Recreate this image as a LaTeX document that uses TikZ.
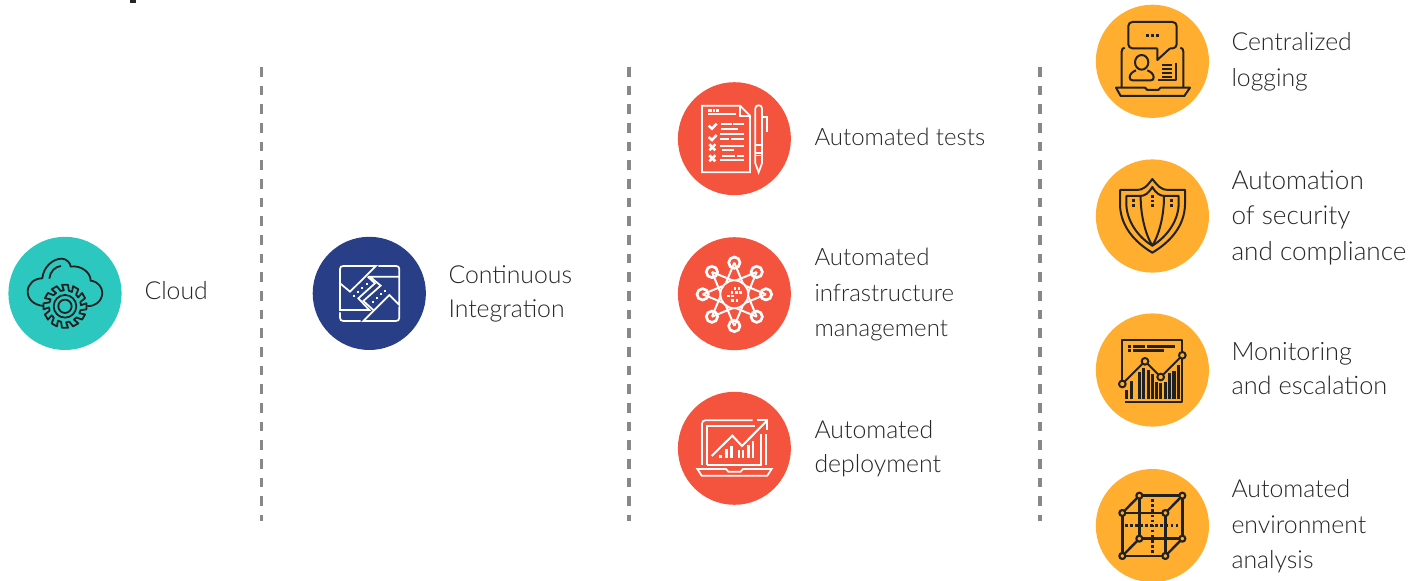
\documentclass[tikz,border=0pt]{standalone}
\usepackage{fontspec}
\setmainfont{Lato Light}
\definecolor{tealdisc}{RGB}{44,199,191}
\definecolor{navydisc}{RGB}{40,63,135}
\definecolor{reddisc}{RGB}{244,83,61}
\definecolor{orangedisc}{RGB}{255,174,47}
\definecolor{inkline}{RGB}{33,33,33}
\definecolor{labeltext}{RGB}{38,38,38}
\definecolor{sepline}{RGB}{136,136,136}
\tikzset{every picture/.style={line width=0.75pt}}
\tikzset{
  sepdash/.style={draw=sepline,line width=2.3pt,dash pattern=on 7.3pt off 6.7pt},
  lbl/.style={anchor=north west,inner sep=0pt,align=left,text=labeltext,
    font=\fontsize{18.6}{26.6}\selectfont},
  lblnarrow/.style={lbl,font=\fontsize{18.6}{25.7}\selectfont},
  iconink/.style={draw=inkline,line width=1.35pt,line join=round},
  iconwhite/.style={draw=white,line width=1.3pt,line join=miter},
  inkbar/.style={fill=inkline,draw=none},
  whitebar/.style={fill=white,draw=none},
  zoomed/.style={shift={#1},scale=0.3333}
}
\begin{document}
\begin{tikzpicture}[x=0.75pt,y=0.75pt,yscale=-1,xscale=1]
    \useasboundingbox (0,0) rectangle (1425,581);

    %Shape: Rectangle, foot of the cut heading
    \fill [labeltext] (130,0) rectangle (136,3);

    %Straight Lines, the three separators
    \draw [sepdash] (261.7,67) -- (261.7,521);
    \draw [sepdash] (629,67) -- (629,521);
    \draw [sepdash] (1040,67) -- (1040,521);

    %Shape: Circle, the discs
    \fill [tealdisc] (65,293.4) circle (56.6);
    \fill [navydisc] (369.3,293.4) circle (56.6);
    \foreach \cy in {138.7,293.7,448.3} {\fill [reddisc] (734.4,\cy) circle (56.5);}
    \foreach \cy in {61.3,216,370,525.6} {\fill [orangedisc] (1152.4,\cy) circle (56.6);}

    %Icon: cloud and gear
    \begin{scope}[zoomed={(0,0)}]
      \draw [iconink] (130,918) .. controls (100,915) and (83,897) .. (83,875) .. controls (83,852) and (103,835) .. (127,835) .. controls (130,800) and (160,776) .. (185,776) .. controls (200,776) and (212,790) .. (212,800) .. controls (240,795) and (272,815) .. (272,842) .. controls (295,845) and (307,862) .. (307,880) .. controls (305,905) and (285,920) .. (262,918);
      \draw [iconink] (148,836) .. controls (150,815) and (165,800) .. (183,798);
      \begin{scope}[shift={(195,919)}]
        \draw [iconink] (-4:48) \foreach \a in {0,30,...,330} { -- (\a-4:48) -- (\a-8:65) -- (\a+8:65) -- (\a+14:48)} -- cycle;
        \draw [iconink] (0,0) circle (34);
        \draw [iconink] (0,0) circle (20);
      \end{scope}
    \end{scope}

    %Icon: two arrows in a frame
    \begin{scope}[zoomed={(330,255)}]
      \draw [iconwhite] (30,85) -- (30,42) .. controls (30,36) and (34,33) .. (40,33) -- (138,33) -- (60,110) -- (30,85) -- (30,165) -- (118,165) -- (85,130) -- (135,85) -- (113,65);
      \draw [iconwhite] (145,33) -- (198,33) .. controls (204,33) and (208,36) .. (208,42) -- (208,150) -- (178,120) -- (100,198) -- (198,198) .. controls (204,198) and (208,195) .. (208,188) -- (208,155);
      \draw [iconwhite] (208,65) -- (120,65) -- (152,92) -- (100,138) -- (130,165);
      \draw [iconwhite] (30,172) -- (30,188) .. controls (30,195) and (34,198) .. (40,198) -- (92,198);
      \foreach \dx/\dy in {72/122,85/112,97/100,110/88,128/140,140/130,152/118,165/108}
        {\fill [white] (\dx-3,\dy-3) rectangle (\dx+3,\dy+3);}
    \end{scope}

    %Icon: checklist and pen
    \begin{scope}[zoomed={(670,75)}]
      \draw [iconwhite] (96,92) -- (210,92) -- (240,122) -- (240,292) -- (96,292) -- cycle;
      \draw [iconwhite] (210,92) -- (210,122) -- (240,122);
      \foreach \xa/\ya/\xb/\yb in {115/102/125/110,128/102/136/110,139/102/147/110,115/114/198/121,
        152/145/185/151,188/145/222/151,152/158/205/164,150/175/222/181,150/189/178/195,183/189/222/195,
        150/209/222/215,155/222/192/228,155/240/195/246,200/240/222/246,150/253/222/259,
        255/208/277/212,255/232/277/236,255/240/277/244}
        {\fill [whitebar] (\xa,\ya) rectangle (\xb,\yb);}
      \foreach \cy in {152,186} {\draw [white,line width=1.9pt] (116,\cy) -- (126,\cy+9) -- (140,\cy-6);}
      \foreach \cy in {217,250} {\draw [white,line width=1.9pt] (118,\cy-9) -- (136,\cy+9) (136,\cy-9) -- (118,\cy+9);}
      \draw [iconwhite] (256,265) -- (256,100) .. controls (256,94) and (260,91) .. (266,91) .. controls (272,91) and (276,94) .. (276,100) -- (276,265) -- (266,292) -- cycle;
      \draw [iconwhite] (276,126) -- (292,126) -- (292,172);
    \end{scope}

    %Icon: network star
    \begin{scope}[zoomed={(670,230)}]
      \begin{scope}[shift={(193,193)}]
        \foreach \a in {0,45,...,315} {\draw [iconwhite,line width=1.5pt] (\a:95) -- (\a+135:95);}
        \draw [iconwhite,line width=1.5pt,fill=reddisc] (0,0) circle (42);
        \foreach \a in {0,45,...,315} {\draw [iconwhite,line width=2pt] (\a:95) circle (17);}
        \foreach \dx/\dy in {2/-18,14/-18,-7/-6,6/-6,18/-6,-18/5,-6/5,8/18,-5/18}
          {\fill [white] (\dx-4,\dy-4) rectangle (\dx+4,\dy+4);}
      \end{scope}
    \end{scope}

    %Icon: laptop with rising chart
    \begin{scope}[zoomed={(670,385)}]
      \draw [iconwhite] (96,240) -- (96,116) .. controls (96,110) and (100,106) .. (106,106) -- (248,106);
      \draw [iconwhite] (110,240) -- (110,122) -- (256,122);
      \draw [iconwhite] (272,148) -- (272,240) -- (110,240);
      \draw [white,line width=1.9pt] (288,148) -- (288,240);
      \draw [iconwhite] (82,252) -- (168,252) -- (175,260) -- (212,260) -- (219,252) -- (305,252) -- (292,272) -- (95,272) -- cycle;
      \draw [iconwhite,line width=1.5pt] (125,213) -- (187,152) -- (216,183) -- (290,108);
      \draw [iconwhite,line width=1.5pt] (262,106) -- (292,106) -- (292,135);
      \foreach \xa/\ya in {148/210,165/192,180/183,203/195,215/195,232/180,245/168}
        {\fill [whitebar] (\xa,\ya) rectangle (\xa+8,218);}
    \end{scope}

    %Icon: laptop, speech bubble and user
    \begin{scope}[zoomed={(1090,0)}]
      \draw [iconink,line width=1.5pt,rounded corners=3pt] (202,145) -- (115,145) -- (115,66) -- (260,66) -- (260,145) -- (240,145);
      \draw [iconink,line width=1.5pt] (240,145) -- (202,180) -- (202,145);
      \foreach \dx in {172,187,202} {\fill [inkbar] (\dx-4,102) rectangle (\dx+4,110);}
      \draw [iconink,line width=1.5pt] (95,262) -- (95,155) .. controls (95,148) and (98,144) .. (104,143);
      \draw [iconink,line width=1.5pt] (271,143) .. controls (277,144) and (280,148) .. (280,155) -- (280,262);
      \draw [iconink,line width=1.5pt] (78,263) -- (165,263) -- (172,270) -- (205,270) -- (212,263) -- (300,263) -- (283,288) -- (92,288) -- cycle;
      \draw [iconink,line width=1.5pt] (155,187) ellipse (20 and 22);
      \draw [iconink,line width=1.5pt] (138,211) .. controls (128,215) and (119,222) .. (119,232) .. controls (119,238) and (122,241) .. (128,241) -- (182,241) .. controls (188,241) and (191,238) .. (191,232) .. controls (191,222) and (182,215) .. (172,211);
      \foreach \ya in {193,205,217,228} {\fill [inkbar] (215,\ya) rectangle (245,\ya+6);}
      \draw [iconink,line width=1.5pt] (258,188) -- (258,240) -- (205,240);
    \end{scope}

    %Icon: shield
    \begin{scope}[zoomed={(1090,155)}]
      \draw [iconink,line width=1.5pt] (187,72) .. controls (170,95) and (160,105) .. (140,105) -- (90,105) -- (90,150) .. controls (92,215) and (135,262) .. (187,293) .. controls (239,262) and (283,215) .. (285,150) -- (285,105) -- (235,105) .. controls (215,105) and (205,95) .. (187,72) -- cycle;
      \draw [iconink,line width=1.5pt] (187,96) .. controls (175,115) and (165,123) .. (150,123) -- (109,123) -- (109,150) .. controls (112,205) and (150,250) .. (187,272) .. controls (224,250) and (263,205) .. (266,150) -- (266,123) -- (225,123) .. controls (210,123) and (198,115) .. (187,96) -- cycle;
      \draw [iconink,line width=1.5pt] (152,125) .. controls (152,190) and (170,245) .. (187,272) .. controls (204,245) and (222,190) .. (222,125);
      \foreach \dx/\dy in {130/137,130/152,187/125,187/138,187/152,245/137,245/152}
        {\fill [inkbar] (\dx-4,\dy-4) rectangle (\dx+4,\dy+4);}
    \end{scope}

    %Icon: report with line chart
    \begin{scope}[zoomed={(1090,308)}]
      \draw [iconink,line width=1.5pt] (97,215) -- (97,95) -- (277,95) -- (277,283) -- (105,283);
      \foreach \xa/\ya/\xb/\yb in {115/112/122/119,128/112/165/119,170/112/255/119,115/124/122/131,128/124/222/131}
        {\fill [inkbar] (\xa,\ya) rectangle (\xb,\yb);}
      \foreach \dx/\dy in {110/245,125/218,148/193,160/180,175/185,187/198,200/222,212/226,226/222,238/195,252/188,266/170}
        {\fill [inkbar] (\dx-5,\dy) rectangle (\dx+5,272);}
      \draw [iconink,line width=1.5pt] (97,228) -- (165,160) -- (212,207) -- (277,142);
      \foreach \dx/\dy in {97/228,165/160,212/207,277/142}
        {\draw [iconink,line width=1.5pt,fill=orangedisc] (\dx,\dy) circle (10);}
    \end{scope}

    %Icon: cube
    \begin{scope}[zoomed={(1090,460)}]
      \draw [iconink,line width=1.8pt] (97,159) rectangle (226,288);
      \draw [iconink,line width=1.8pt] (148,107) rectangle (277,236);
      \foreach \xa/\ya/\xb/\yb in {97/159/148/107,226/159/277/107,226/288/277/236,97/288/148/236}
        {\draw [iconink,line width=1.8pt] (\xa,\ya) -- (\xb,\yb);}
      \draw [inkline,line width=1.9pt,dash pattern=on 2pt off 1.8pt] (105,197) -- (270,197);
      \draw [inkline,line width=1.9pt,dash pattern=on 2pt off 1.8pt] (187,118) -- (187,280);
      \foreach \dx/\dy in {97/159,226/159,97/288,226/288,148/107,277/107,148/236,277/236}
        {\draw [iconink,line width=1.6pt,fill=orangedisc] (\dx,\dy) circle (9);}
    \end{scope}

    % Text Node
    \draw (144,281) node (lblCloud) [lbl] {Cloud};
    % Text Node
    \draw (448,265) node (lblIntegration) [lblnarrow] {Continuous\\Integration};
    % Text Node
    \draw (814,128) node (lblTests) [lbl,font=\fontsize{18}{26.6}\selectfont] {Automated tests};
    % Text Node
    \draw (814,248) node (lblInfra) [lbl,font=\fontsize{18}{26.6}\selectfont] {Automated\\infrastructure\\management};
    % Text Node
    \draw (814,420) node (lblDeploy) [lblnarrow] {Automated\\deployment};
    % Text Node
    \draw (1231,32) node (lblLogging) [lbl] {Centralized\\logging};
    % Text Node
    \draw (1231,170) node (lblSecurity) [lbl,font=\fontsize{19.6}{26.6}\selectfont] {Automation\\of security\\and compliance};
    % Text Node
    \draw (1231,342) node (lblMonitoring) [lblnarrow,font=\fontsize{19}{25.7}\selectfont] {Monitoring\\and escalation};
    % Text Node
    \draw (1231,479) node (lblEnvironment) [lbl] {Automated\\environment\\analysis};
\end{tikzpicture}
\end{document}
